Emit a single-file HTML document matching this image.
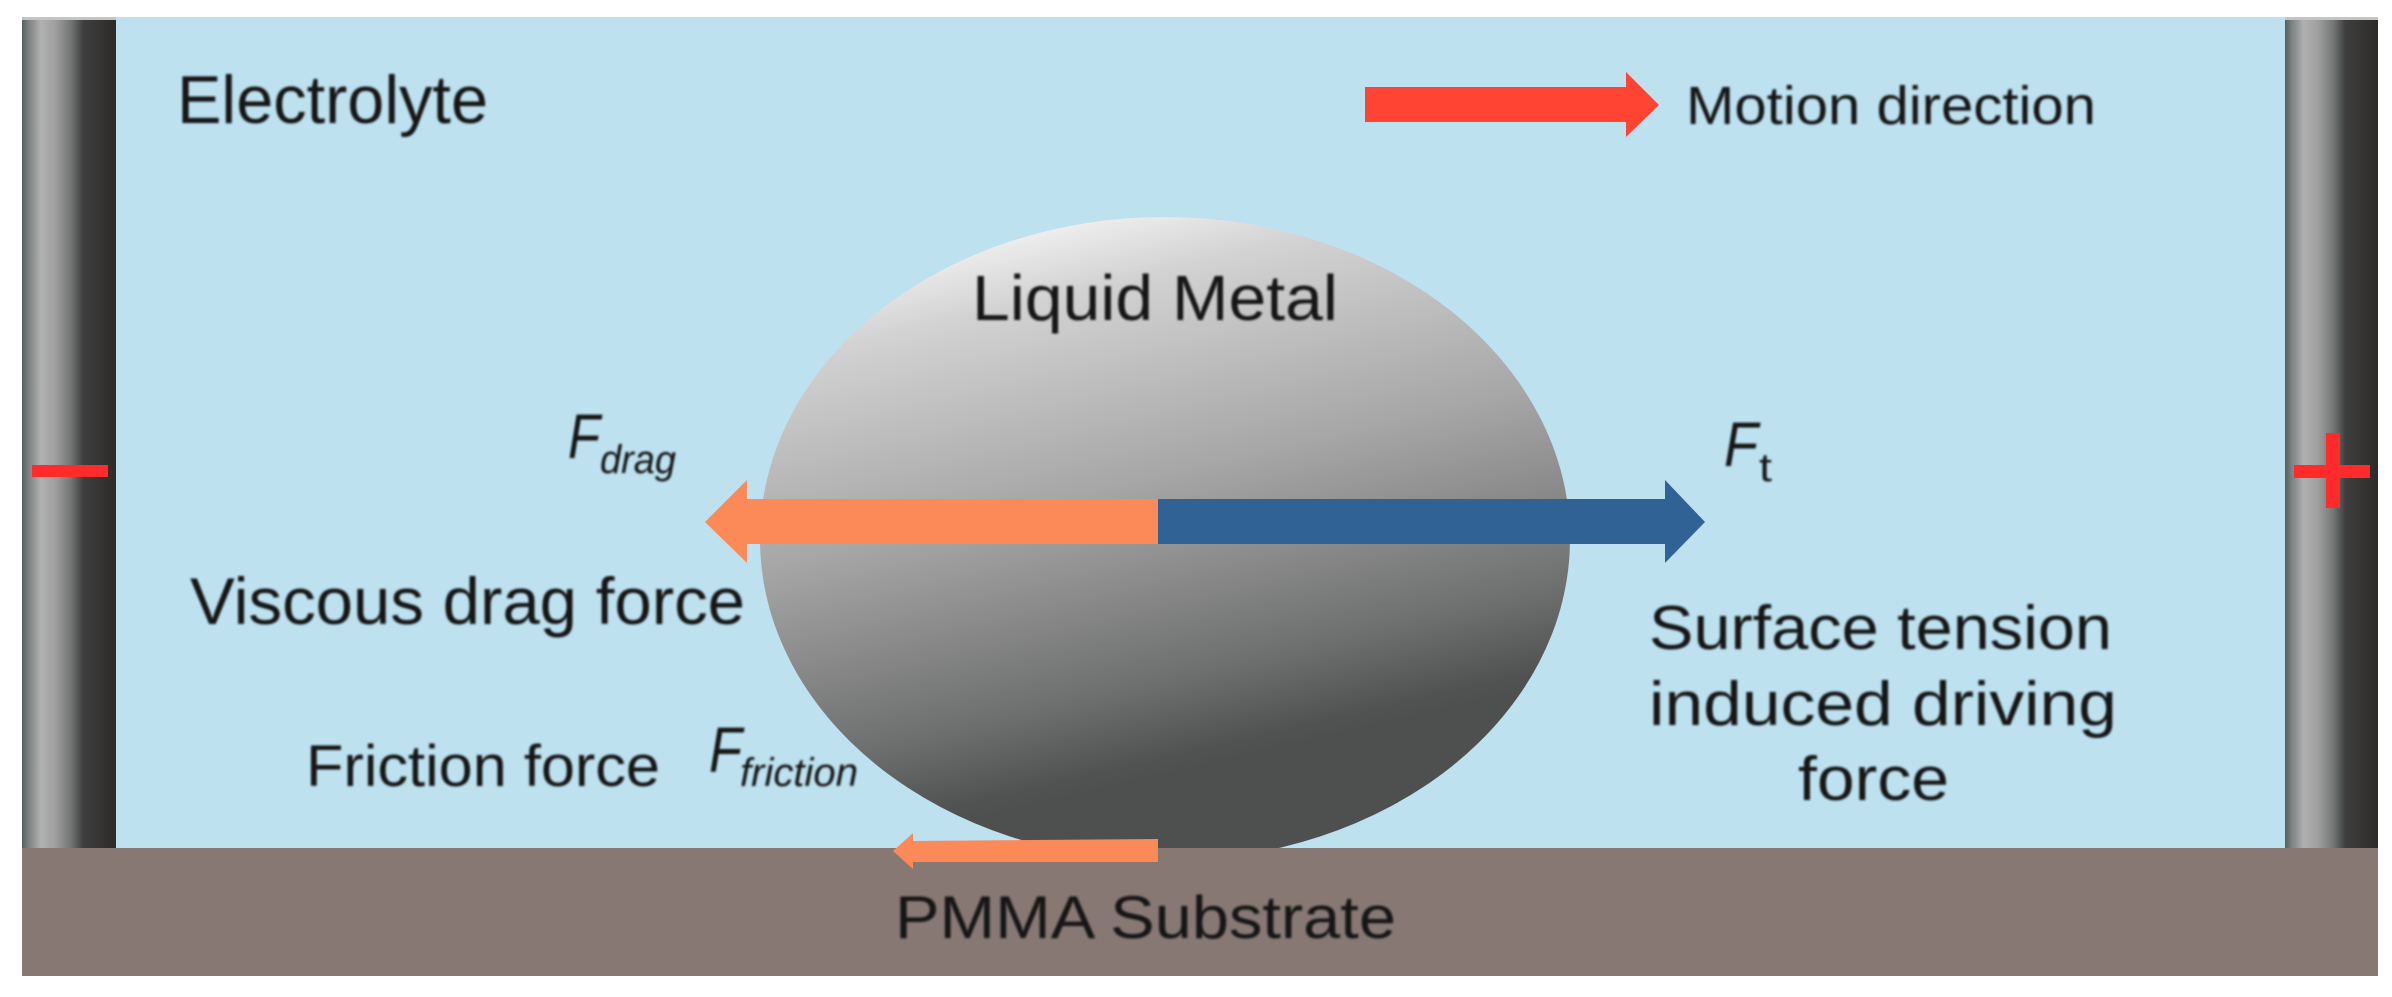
<!DOCTYPE html>
<html>
<head>
<meta charset="utf-8">
<style>
html,body{margin:0;padding:0;background:#fff;}
svg{display:block;}
text{font-family:"Liberation Sans",sans-serif;fill:#141618;}
</style>
</head>
<body>
<svg width="2392" height="997" viewBox="0 0 2392 997" xmlns="http://www.w3.org/2000/svg">
<defs>
<linearGradient id="bar" x1="0" y1="0" x2="1" y2="0">
<stop offset="0" stop-color="#566060"/>
<stop offset="0.07" stop-color="#7c8080"/>
<stop offset="0.2" stop-color="#b0b0b0"/>
<stop offset="0.35" stop-color="#a0a0a0"/>
<stop offset="0.52" stop-color="#747676"/>
<stop offset="0.65" stop-color="#3e3e3e"/>
<stop offset="1" stop-color="#2d2b29"/>
</linearGradient>
<linearGradient id="ball" gradientUnits="userSpaceOnUse" x1="1100" y1="218" x2="1227" y2="763">
<stop offset="0" stop-color="#eeeded"/>
<stop offset="0.12" stop-color="#d2d2d2"/>
<stop offset="0.475" stop-color="#a6a6a6"/>
<stop offset="0.63" stop-color="#8e8e8e"/>
<stop offset="0.83" stop-color="#6e6f6f"/>
<stop offset="0.97" stop-color="#505251"/>
<stop offset="1" stop-color="#4e504f"/>
</linearGradient>
<filter id="b" x="-5%" y="-5%" width="110%" height="110%"><feGaussianBlur stdDeviation="1.1"/></filter>
</defs>
<rect x="22" y="17" width="2356" height="835" fill="#bde1ef"/>
<rect x="22" y="17" width="94" height="835" fill="url(#bar)"/>
<rect x="2285" y="17" width="93" height="835" fill="url(#bar)"/>
<rect x="22" y="17" width="94" height="3" fill="#c4c4c4"/>
<rect x="2285" y="17" width="93" height="3" fill="#c4c4c4"/>
<ellipse cx="1165" cy="539" rx="405" ry="322" fill="url(#ball)"/>
<rect x="22" y="848" width="2356" height="128" fill="#877874"/>

<rect x="32" y="465" width="76" height="12" fill="#ff2a2a"/>
<rect x="2294" y="465" width="76" height="13" fill="#ff2a2a"/>
<rect x="2326" y="433" width="14" height="75" fill="#ff2a2a"/>

<polygon points="1365,87 1626,87 1626,72 1659,105 1626,137 1626,122 1365,122" fill="#ff4433"/>
<polygon points="1158,499 1158,544 747,544 747,563 705,522 747,480 747,499" fill="#fc8a59"/>
<polygon points="1158,499 1665,499 1665,480 1705,522 1665,563 1665,544 1158,544" fill="#316296"/>
<polygon points="1158,839 1158,862 913,862 913,869 893,851 913,833 913,841" fill="#fc8a59"/>

<g filter="url(#b)">
<text x="177" y="123" font-size="68" textLength="311" lengthAdjust="spacingAndGlyphs">Electrolyte</text>
<text x="1686" y="124" font-size="54" textLength="410" lengthAdjust="spacingAndGlyphs">Motion direction</text>
<text x="972" y="320" font-size="64" textLength="366" lengthAdjust="spacingAndGlyphs">Liquid Metal</text>
<text x="190" y="624" font-size="66" textLength="555" lengthAdjust="spacingAndGlyphs">Viscous drag force</text>
<text x="306" y="786" font-size="58" textLength="354" lengthAdjust="spacingAndGlyphs">Friction force</text>
<text x="895" y="938" font-size="60" textLength="501" lengthAdjust="spacingAndGlyphs">PMMA Substrate</text>
<text x="1649" y="649" font-size="62" textLength="463" lengthAdjust="spacingAndGlyphs">Surface tension</text>
<text x="1649" y="725" font-size="62" textLength="468" lengthAdjust="spacingAndGlyphs">induced driving</text>
<text x="1798" y="800" font-size="62" textLength="151" lengthAdjust="spacingAndGlyphs">force</text>

<text x="568" y="458" font-size="63" font-style="italic" textLength="32" lengthAdjust="spacingAndGlyphs">F</text>
<text x="600" y="473" font-size="40" font-style="italic" textLength="76" lengthAdjust="spacingAndGlyphs">drag</text>
<text x="1724" y="466" font-size="63" font-style="italic" textLength="34" lengthAdjust="spacingAndGlyphs">F</text>
<text x="1759" y="481" font-size="40" textLength="13" lengthAdjust="spacingAndGlyphs">t</text>
<text x="709" y="772" font-size="64" font-style="italic" textLength="33" lengthAdjust="spacingAndGlyphs">F</text>
<text x="740" y="786" font-size="40" font-style="italic" textLength="118" lengthAdjust="spacingAndGlyphs">friction</text>
</g>
</svg>
</body>
</html>
